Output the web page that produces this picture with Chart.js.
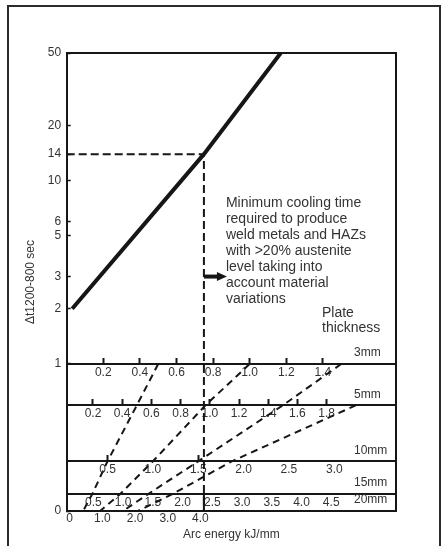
<!DOCTYPE html>
<html>
<head>
<meta charset="utf-8">
<script src="https://cdn.jsdelivr.net/npm/chart.js@4.4.1/dist/chart.umd.min.js"></script>
<style>
html,body{margin:0;padding:0;background:#fff;overflow:hidden;}
#wrap{position:relative;width:442px;height:546px;overflow:hidden;}
#frame{position:absolute;left:7px;top:5px;width:434px;height:600px;border:2px solid #2b2b2b;box-sizing:border-box;pointer-events:none;}
canvas{display:block;}
</style>
</head>
<body>
<div id="wrap"><canvas id="c" width="442" height="546"></canvas><div id="frame"></div></div>
<script>
// ---------- data ----------
const timeTicks = [1, 2, 3, 5, 6, 10, 14, 20, 50];          // Δt1200-800, s
const criticalEnergy = [0.03, 0.75, 1.17];                    // kJ/mm (3 mm scale)
const criticalTime = [2, 14, 50];                             // s
const refTime = 14;
const refEnergy = 0.75;
const arrowTime = 3;
const yMin = 0.157;

const plateThickness = [3, 5, 10, 15, 20];                    // mm
const plateLabels = ['3mm', '5mm', '10mm', '15mm', '20mm'];
const ticks3mm = [0.2, 0.4, 0.6, 0.8, 1.0, 1.2, 1.4];
const ticks5mm = [0.2, 0.4, 0.6, 0.8, 1.0, 1.2, 1.4, 1.6, 1.8];
const ticks10mm = [0.5, 1.0, 1.5, 2.0, 2.5, 3.0];
const marks10mm = [0.5, 1.5];
const ticks15mm = [0.5, 1.0, 1.5, 2.0, 2.5, 3.0, 3.5, 4.0, 4.5];
const ticks20mm = [0, 1, 2, 3, 4];

// guide lines: arc energy read on each plate row (3,5,10,15,20 mm)
const guide05 = [0.5, 0.5, 0.5, 0.48, 0.41];
const guide10 = [1.0, 0.97, 1.0, 0.95, 0.93];
const guide15 = [1.5, 1.5, 1.5, 1.42, 1.63];
const guide20 = [null, 2.0, 1.87, 1.83, 2.09];

const noteLines = ['Minimum cooling time', 'required to produce', 'weld metals and HAZs',
  'with >20% austenite', 'level taking into', 'account material', 'variations'];
const plateCaption = ['Plate', 'thickness'];

// ---------- styling ----------
const INK = '#161616';
const TEXT = '#333333';
Chart.defaults.font.family = '"Liberation Sans", Arial, sans-serif';
Chart.defaults.color = TEXT;

const rowIds = ['x3', 'x5', 'x10', 'x15', 'x'];

function rowAxis(thick, ticks, marks, min, max) {
  return {
    type: 'linear', axis: 'x', position: { yRows: thick }, min: min, max: max,
    afterBuildTicks: s => { s.ticks = ticks.map(v => ({ value: v })); },
    grid: { display: true, drawOnChartArea: false, drawTicks: true, tickLength: -7, tickWidth: 2,
      tickColor: ctx => (ctx.tick && marks.includes(ctx.tick.value)) ? INK : 'rgba(0,0,0,0)' },
    border: { display: true, width: 2, color: INK },
    ticks: { autoSkip: false, maxRotation: 0, padding: 8, font: { size: 12 }, color: TEXT,
      callback: v => Number(v).toFixed(1) }
  };
}

const nomogramPlugin = {
  id: 'nomogram',
  afterDatasetsDraw(chart) {
    const { ctx, chartArea: a, scales } = chart;
    const last = plateThickness.length - 1;
    const rowY = i => i === last ? a.bottom : scales.yRows.getPixelForValue(plateThickness[i]);
    ctx.save();
    ctx.beginPath(); ctx.rect(a.left, a.top, a.right - a.left, a.bottom - a.top); ctx.clip();
    ctx.strokeStyle = INK; ctx.lineWidth = 2; ctx.setLineDash([7, 5]);
    [guide05, guide10, guide15, guide20].forEach(g => {
      ctx.beginPath();
      let started = false;
      g.forEach((v, i) => {
        if (v === null) return;
        const px = scales[rowIds[i]].getPixelForValue(v);
        const py = rowY(i);
        if (!started) { ctx.moveTo(px, py); started = true; } else { ctx.lineTo(px, py); }
      });
      ctx.stroke();
    });
    ctx.setLineDash([]);
    const vx = scales.x3.getPixelForValue(refEnergy);
    ctx.beginPath(); ctx.moveTo(vx, rowY(3)); ctx.lineTo(vx, a.bottom); ctx.stroke();
    ctx.restore();

    ctx.save();
    ctx.strokeStyle = INK; ctx.lineWidth = 2;
    ctx.beginPath(); ctx.moveTo(a.left, a.top); ctx.lineTo(a.right, a.top); ctx.lineTo(a.right, a.bottom); ctx.stroke();
    // arrow
    const ay = scales.y.getPixelForValue(arrowTime);
    const tip = vx + 23;
    ctx.lineWidth = 4;
    ctx.beginPath(); ctx.moveTo(vx, ay); ctx.lineTo(tip - 8, ay); ctx.stroke();
    ctx.fillStyle = INK;
    ctx.beginPath(); ctx.moveTo(tip, ay); ctx.lineTo(tip - 10, ay - 4.5); ctx.lineTo(tip - 10, ay + 4.5); ctx.closePath(); ctx.fill();
    // note text
    ctx.fillStyle = TEXT; ctx.textAlign = 'left'; ctx.textBaseline = 'middle';
    ctx.font = '14px "Liberation Sans", Arial, sans-serif';
    noteLines.forEach((t, i) => ctx.fillText(t, tip - 1, ay - 73 + 16 * i));
    const y3 = rowY(0);
    plateCaption.forEach((t, i) => ctx.fillText(t, a.right - 74, y3 - 51 + 15 * i));
    ctx.font = '12px "Liberation Sans", Arial, sans-serif';
    plateLabels.forEach((t, i) => ctx.fillText(t, a.right - 42, rowY(i) - 11));
    ctx.restore();
  }
};

new Chart(document.getElementById('c'), {
  type: 'line',
  data: {
    datasets: [
      {
        label: 'Minimum cooling time',
        data: criticalEnergy.map((e, i) => ({ x: e, y: criticalTime[i] })),
        xAxisID: 'x3', yAxisID: 'y',
        borderColor: INK, borderWidth: 4, pointRadius: 0, tension: 0, fill: false
      },
      {
        label: '14 s reference',
        data: [{ x: 0, y: refTime }, { x: refEnergy, y: refTime }, { x: refEnergy, y: yMin }],
        xAxisID: 'x3', yAxisID: 'y',
        borderColor: INK, borderWidth: 2, borderDash: [8, 4], pointRadius: 0, tension: 0, fill: false
      }
    ]
  },
  options: {
    responsive: false,
    animation: false,
    events: [],
    layout: { padding: { top: 53, right: 46, bottom: 0, left: 10 } },
    plugins: { legend: { display: false }, tooltip: { enabled: false } },
    scales: {
      y: {
        type: 'logarithmic', position: 'left', min: yMin, max: 50,
        afterBuildTicks: s => { s.ticks = [yMin].concat(timeTicks).map(v => ({ value: v })); },
        grid: { display: true, drawOnChartArea: false, drawTicks: true, tickLength: -4, tickWidth: 1.5, tickColor: INK },
        border: { display: true, width: 2, color: INK },
        ticks: { autoSkip: false, padding: 9.5, font: { size: 12 }, color: TEXT,
          callback: v => v <= yMin ? '0' : String(v) },
        title: { display: true, text: '\u0394t1200-800 sec', font: { size: 12 }, color: TEXT, padding: { top: 13, bottom: 0 } },
        afterFit: s => { s.width = 56.7; }
      },
      yRows: {
        type: 'logarithmic', axis: 'y', position: 'left', reverse: true, display: false, min: 0.0638, max: 18.5
      },
      x: {
        type: 'linear', position: 'bottom', min: -0.09, max: 9.98,
        afterBuildTicks: s => { s.ticks = ticks20mm.map(v => ({ value: v })); },
        grid: { display: false, drawTicks: false, drawOnChartArea: false },
        border: { display: true, width: 2, color: INK },
        ticks: { autoSkip: false, maxRotation: 0, padding: 0, font: { size: 12 }, color: TEXT,
          callback: v => v === 0 ? '0' : Number(v).toFixed(1) },
        title: { display: true, text: 'Arc energy kJ/mm', font: { size: 12 }, color: TEXT, padding: { top: 2, bottom: 4 } },
        afterFit: s => { s.height = 35; }
      },
      x3: rowAxis(3, ticks3mm, ticks3mm, 0, 1.8),
      x5: rowAxis(5, ticks5mm, ticks5mm, 0.02, 2.275),
      x10: rowAxis(10, ticks10mm, marks10mm, 0.05, 3.68),
      x15: rowAxis(15, ticks15mm, [], 0.05, 5.59)
    }
  },
  plugins: [nomogramPlugin]
});
</script>
</body>
</html>
